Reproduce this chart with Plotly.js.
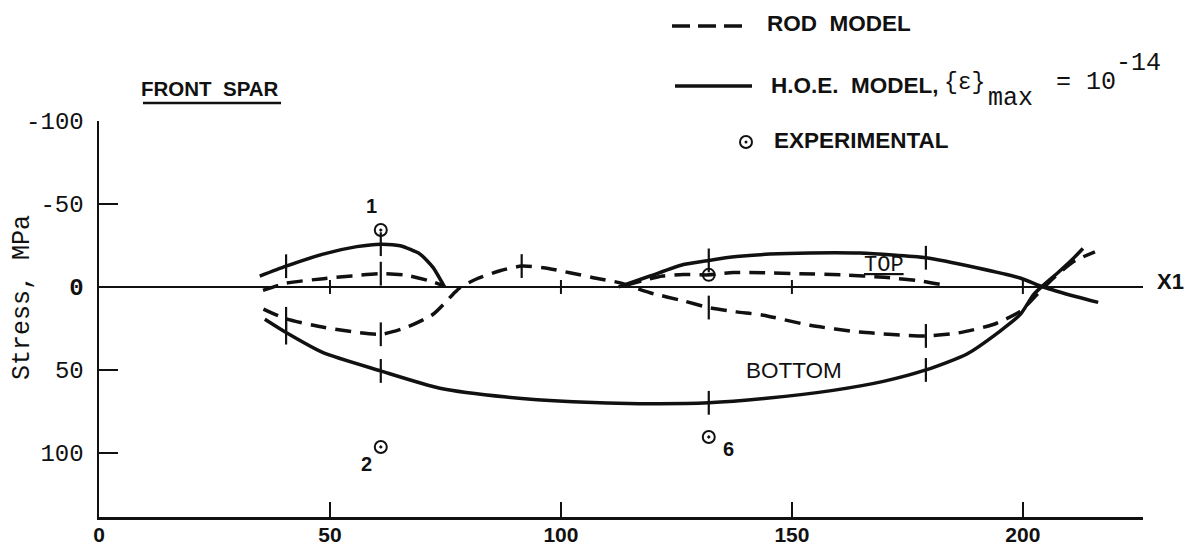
<!DOCTYPE html>
<html><head><meta charset="utf-8">
<script src="https://cdn.plot.ly/plotly-3.0.1.min.js"></script>
<style>html,body{margin:0;padding:0;background:#fff}#chart{width:1200px;height:554px}</style>
</head><body><div id="chart"></div>
<script>
// ---------- data ----------
const xTickVals = [0, 50, 100, 150, 200];
const xTickText = ['0', '50', '100', '150', '200'];
const yTickVals = [-100, -50, 0, 50, 100];
const yTickText = ['-100', '-50', '<b>0</b>', '50', '100'];
const zeroLineTicks = [50, 100, 150, 200];

// H.O.E. model (solid)
const hoeTop1X = [34.8, 40.5, 48.5, 55.8, 61, 65.2, 69.5, 72.3, 74.2, 74.8];
const hoeTop1Y = [-6.5, -12.5, -19.8, -24.3, -25.8, -24.8, -19.8, -11.8, -3, 0];
const hoeTop1Marks = [40.5, 61];

const hoeTop2X = [112.5, 119.3, 126.5, 132, 138, 145.2, 153.9, 164.7, 179, 190, 199.4, 204.4, 211.6, 216.3];
const hoeTop2Y = [0, -6.6, -13.5, -16, -18.3, -19.8, -20.5, -20.4, -17.6, -11.6, -5.4, 0, 5.9, 9.3];
const hoeTop2Marks = [132, 179];

const hoeBotX = [35.9, 40.5, 48.5, 61, 73.8, 88.2, 102.6, 117, 132, 144.5, 158.9, 169.8, 179, 187.8, 195, 199.4, 202.3, 204, 207.8, 210.9, 213];
const hoeBotY = [19.5, 27.5, 39.6, 50.6, 61, 66.3, 69.1, 70.3, 69.8, 67.1, 62.3, 56.9, 50, 40.5, 26.7, 16.7, 4.6, 0, -9.2, -17.2, -23.2];
const hoeBotMarks = [40.5, 61, 132, 179];

// Rod model (dashed)
const rodTop1X = [35.5, 40.5, 48.6, 61, 66.6, 72.4, 74.5];
const rodTop1Y = [2, -2.3, -5, -8, -7, -3, -0.8];
const rodTop1Marks = [61];

const rodMainX = [35.6, 40.5, 48.6, 61, 66.6, 72.4, 76.7, 78.1, 81.7, 86.8, 91.5, 96.2, 101.9, 107, 112.8, 115, 119.3, 126.5, 132, 138, 143.8, 153.9, 164.7, 179, 186.4, 193.6, 199.4, 203, 206.6, 210.9, 215.6];
const rodMainY = [13.3, 19.2, 24.3, 28.5, 24.3, 16.3, 4.2, 0.5, -4.8, -9.8, -12.6, -11.6, -8.6, -5.6, -2.5, -0.5, 3.5, 8.4, 12.4, 15, 17, 23.1, 27.2, 29.5, 27.5, 22.6, 14.7, 4.7, -5.3, -15.2, -21.2];
const rodMainMarks = [40.5, 61, 91.5, 132, 179];

const rodTop2X = [114, 122, 126.5, 132, 137.3, 143.8, 151.7, 161, 170, 177.7, 182];
const rodTop2Y = [-1, -6.6, -7.5, -7.3, -8.7, -8.6, -8, -7.3, -5.8, -3.7, -1.6];

// Experimental points
const expX = [61, 61, 132, 132];
const expY = [-34.3, 96.4, -7.3, 90.4];
const expLabels = ['1', '2', '', '6'];

// ---------- helpers ----------
const INK = '#111';
const L = 99, R = 57, T = 121, B = 37, W = 1200, H = 554;
const pw = W - L - R, ph = H - T - B;
const xp = px => (px - L) / pw;
const yp = py => (H - B - py) / ph;

function line(x, y, dashed) {
  return {x, y, type: 'scatter', mode: 'lines', hoverinfo: 'skip', showlegend: false,
    line: {color: INK, width: 3.5, dash: dashed ? '16px,9px' : 'solid', shape: 'spline', smoothing: 0.6}};
}
function marks(x, y, which) {
  const mx = [], my = [];
  which.forEach(s => { const i = x.indexOf(s); if (i >= 0) { mx.push(x[i]); my.push(y[i]); } });
  return {x: mx, y: my, type: 'scatter', mode: 'markers', hoverinfo: 'skip', showlegend: false,
    marker: {symbol: 'line-ns-open', size: 17, color: INK, line: {color: INK, width: 2.2}}};
}

const traces = [
  line(hoeTop1X, hoeTop1Y, false),
  line(hoeTop2X, hoeTop2Y, false),
  line(hoeBotX, hoeBotY, false),
  line(rodTop1X, rodTop1Y, true),
  line(rodMainX, rodMainY, true),
  line(rodTop2X, rodTop2Y, true),
  marks(hoeTop1X, hoeTop1Y, hoeTop1Marks),
  marks(hoeTop2X, hoeTop2Y, hoeTop2Marks),
  marks(hoeBotX, hoeBotY, hoeBotMarks),
  marks(rodTop1X, rodTop1Y, rodTop1Marks),
  marks(rodMainX, rodMainY, rodMainMarks),
  // short ticks on the X1 (zero) line
  {x: zeroLineTicks, y: zeroLineTicks.map(() => 0), type: 'scatter', mode: 'markers', hoverinfo: 'skip', showlegend: false,
   marker: {symbol: 'line-ns-open', size: 10, color: INK, line: {color: INK, width: 2}}},
  {x: expX, y: expY, type: 'scatter', mode: 'markers', hoverinfo: 'skip', showlegend: false,
   marker: {symbol: 'circle-open-dot', size: 12, color: INK, line: {color: INK, width: 2}}}
];

const yMin = -100, yMax = 138.6, xMax = 226;

const sans = 'Liberation Sans, Arial, sans-serif';
const mono = 'Liberation Mono, Courier New, monospace';

const labelShift = {'1': [-9, 24], '2': [-14, -17], '6': [20, -12]};
const annotations = [];
expLabels.forEach((t, i) => {
  if (!t) return;
  annotations.push({x: expX[i], y: expY[i], xref: 'x', yref: 'y', text: '<b>' + t + '</b>', showarrow: false,
    xshift: labelShift[t][0], yshift: labelShift[t][1], font: {family: sans, size: 20, color: INK}});
});
function pa(px, py, text, font, xanchor, extra) {
  annotations.push(Object.assign({x: xp(px), y: yp(py), xref: 'paper', yref: 'paper', text, showarrow: false,
    xanchor: xanchor || 'left', yanchor: 'middle', font, borderpad: 0}, extra || {}));
}
pa(22, 298, 'Stress, MPa', {family: mono, size: 25, color: INK}, 'center', {textangle: -90});
pa(140, 88, '<b>FRONT  SPAR</b>', {family: sans, size: 20.5, color: INK});
pa(766, 23, '<b>ROD  MODEL</b>', {family: sans, size: 22.5, color: INK});
pa(770, 85, '<b>H.O.E.  MODEL,</b>', {family: sans, size: 22.5, color: INK});
pa(943, 83, '{ε}', {family: mono, size: 23, color: INK});
pa(987, 99, 'max', {family: mono, size: 25, color: INK});
pa(1055, 83, '= 10', {family: mono, size: 25, color: INK});
pa(1115, 64, '-14', {family: mono, size: 25, color: INK});
pa(773, 140, '<b>EXPERIMENTAL</b>', {family: sans, size: 22.5, color: INK});
pa(1156, 281, '<b>X1</b>', {family: sans, size: 22, color: INK});
pa(863, 265, '<u>TOP</u>', {family: mono, size: 22, color: INK});
pa(745, 370, 'BOTTOM', {family: sans, size: 22.5, color: INK});

const shapes = [
  {type: 'line', xref: 'paper', yref: 'paper', x0: xp(672), x1: xp(743), y0: yp(26), y1: yp(26),
   line: {color: INK, width: 3.5, dash: '18px,8px'}},
  {type: 'line', xref: 'paper', yref: 'paper', x0: xp(675), x1: xp(752), y0: yp(86), y1: yp(86),
   line: {color: INK, width: 3.5}},
  {type: 'circle', xref: 'paper', yref: 'paper', xsizemode: 'pixel', ysizemode: 'pixel',
   xanchor: xp(746), yanchor: yp(142), x0: -6, x1: 6, y0: -6, y1: 6, line: {color: INK, width: 2}},
  {type: 'circle', xref: 'paper', yref: 'paper', xsizemode: 'pixel', ysizemode: 'pixel',
   xanchor: xp(746), yanchor: yp(142), x0: -1.5, x1: 1.5, y0: -1.5, y1: 1.5, fillcolor: INK, line: {color: INK, width: 0}},
  {type: 'line', xref: 'paper', yref: 'paper', x0: xp(143), x1: xp(281), y0: yp(103), y1: yp(103),
   line: {color: INK, width: 2.5}}
];

const layout = {
  width: W, height: H, margin: {l: L, r: R, t: T, b: B, pad: 0},
  paper_bgcolor: '#fff', plot_bgcolor: '#fff', showlegend: false,
  xaxis: {range: [0, xMax], showgrid: false, zeroline: false, showline: true, linecolor: INK, linewidth: 2.5,
    ticks: 'inside', ticklen: 15, tickwidth: 2.2, tickcolor: INK, tickvals: xTickVals, ticktext: xTickText,
    tickfont: {family: sans, size: 21, color: INK, weight: 'bold'}, ticklabelstandoff: -3},
  yaxis: {range: [yMax, yMin], showgrid: false, zeroline: true, zerolinecolor: INK, zerolinewidth: 2,
    showline: true, linecolor: INK, linewidth: 2.5, ticks: 'inside', ticklen: 19, tickwidth: 2.5, tickcolor: INK,
    tickvals: yTickVals, ticktext: yTickText, tickfont: {family: mono, size: 24, color: INK}, ticklabelstandoff: 8},
  annotations, shapes
};

Plotly.newPlot('chart', traces, layout, {staticPlot: true, displayModeBar: false});
</script></body></html>
